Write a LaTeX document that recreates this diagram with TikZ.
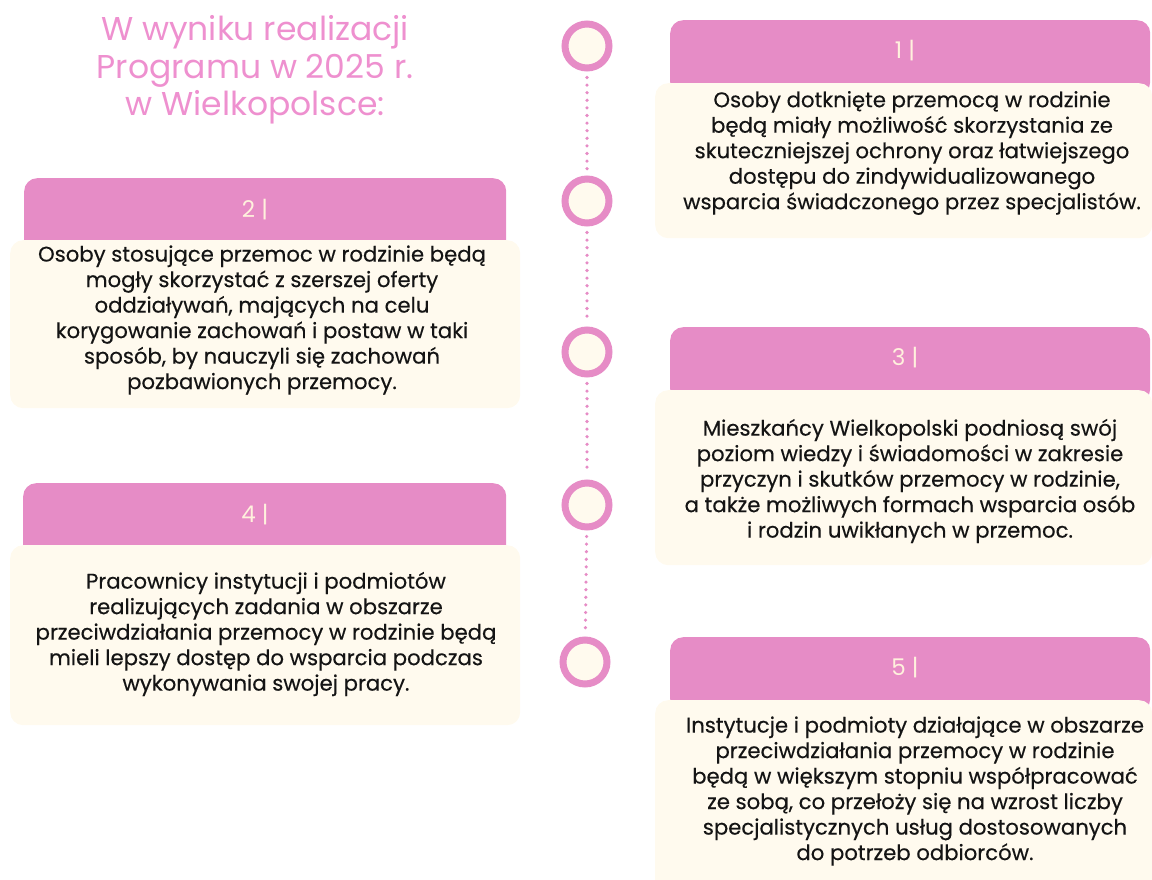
\documentclass[tikz,border=0pt]{standalone}
\usepackage{fontspec}
\setmainfont{Poppins}
\newfontfamily\bodyfont{Poppins}[FakeBold=0.35]
\usetikzlibrary{positioning}

\definecolor{headpink}{HTML}{E68CC6}
\definecolor{titlepink}{HTML}{EE90CF}
\definecolor{creambg}{HTML}{FFFAEE}
\definecolor{numcream}{HTML}{FFF1DD}
\definecolor{bodyink}{HTML}{141414}

\tikzset{
  headbox/.style={fill=headpink, rounded corners=13pt, anchor=north west, inner sep=0pt},
  bodybox/.style={fill=creambg, rounded corners=13pt, anchor=north west, inner sep=0pt},
  bodytext/.style={align=center, text=bodyink, font=\bodyfont\fontsize{21.2}{25.5}\selectfont},
  numtext/.style={text=numcream, font=\fontsize{23}{23}\selectfont},
  ring/.style={circle, draw=headpink, fill=creambg, line width=7pt, minimum size=44pt, inner sep=0pt},
  dotline/.style={draw=headpink, line width=3.6pt, line cap=round, dash pattern=on 0pt off 7.6pt,
    shorten <=6pt, shorten >=6pt},
}

\begin{document}
\begin{tikzpicture}[x=1pt, y=-1pt]
    \useasboundingbox (0, 0) rectangle (1152, 880);

    % title
    \node[text=titlepink, align=center, font=\fontsize{33}{37.5}\selectfont] (title) at (255, 70)
        {W wyniku realizacji\\Programu w 2025 r.\\w Wielkopolsce:};

    % timeline
    \node[ring] (c1) at (587, 46) {};
    \node[ring] (c2) at (587, 201) {};
    \node[ring] (c3) at (587, 352) {};
    \node[ring] (c4) at (587, 505) {};
    \node[ring] (c5) at (585, 662) {};
    \draw[dotline] (c1) -- (c2);
    \draw[dotline] (c2) -- (c3);
    \draw[dotline] (c3) -- (c4);
    \draw[dotline] (c4) -- (c5);

    % 1
    \node[headbox, minimum width=480pt, minimum height=75pt] (head1) at (670, 20) {};
    \node[bodybox, minimum width=497pt, minimum height=155pt] (body1) at (655, 83) {};
    \node[numtext] (num1) at (905, 51) {1\ |};
    \node[bodytext] (text1) at (912, 153)
        {Osoby dotknięte przemocą w rodzinie\\będą miały możliwość skorzystania ze\\skuteczniejszej ochrony oraz łatwiejszego\\dostępu do zindywidualizowanego\\wsparcia świadczonego przez specjalistów.};

    % 2
    \node[headbox, minimum width=482pt, minimum height=75pt] (head2) at (24, 178) {};
    \node[bodybox, minimum width=510pt, minimum height=168pt] (body2) at (10, 240) {};
    \node[numtext] (num2) at (255, 210) {2\ |};
    \node[bodytext] (text2) at (262, 320)
        {Osoby stosujące przemoc w rodzinie będą\\mogły skorzystać z szerszej oferty\\oddziaływań, mających na celu\\korygowanie zachowań i postaw w taki\\sposób, by nauczyli się zachowań\\pozbawionych przemocy.};

    % 3
    \node[headbox, minimum width=480pt, minimum height=75pt] (head3) at (670, 327) {};
    \node[bodybox, minimum width=497pt, minimum height=175pt] (body3) at (655, 390) {};
    \node[numtext] (num3) at (905, 358) {3\ |};
    \node[bodytext] (text3) at (910, 481)
        {Mieszkańcy Wielkopolski podniosą swój\\poziom wiedzy i świadomości w zakresie\\przyczyn i skutków przemocy w rodzinie,\\a także możliwych formach wsparcia osób\\i rodzin uwikłanych w przemoc.};

    % 4
    \node[headbox, minimum width=483pt, minimum height=75pt] (head4) at (23, 483) {};
    \node[bodybox, minimum width=510pt, minimum height=180pt] (body4) at (10, 545) {};
    \node[numtext] (num4) at (255, 515) {4\ |};
    \node[bodytext] (text4) at (266, 634)
        {Pracownicy instytucji i podmiotów\\realizujących zadania w obszarze\\przeciwdziałania przemocy w rodzinie będą\\mieli lepszy dostęp do wsparcia podczas\\wykonywania swojej pracy.};

    % 5
    \node[headbox, minimum width=480pt, minimum height=75pt] (head5) at (670, 637) {};
    \node[bodybox, minimum width=497pt, minimum height=195pt] (body5) at (655, 700) {};
    \node[numtext] (num5) at (905, 668) {5\ |};
    \node[bodytext] (text5) at (915, 791)
        {Instytucje i podmioty działające w obszarze\\przeciwdziałania przemocy w rodzinie\\będą w większym stopniu współpracować\\ze sobą, co przełoży się na wzrost liczby\\specjalistycznych usług dostosowanych\\do potrzeb odbiorców.};
\end{tikzpicture}
\end{document}
